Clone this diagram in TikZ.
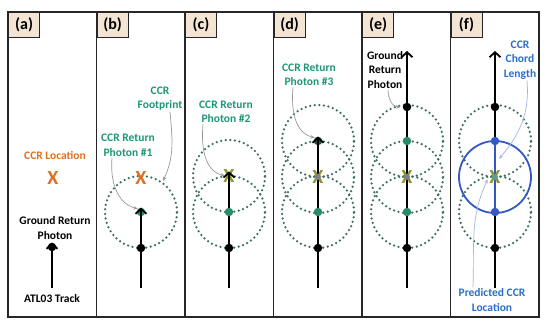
\documentclass[tikz,border=0pt]{standalone}
\usepackage{fontspec}
\setmainfont{Carlito}
\usetikzlibrary{positioning, arrows.meta}
\definecolor{ccrorange}{RGB}{222,112,32}
\definecolor{ccrteal}{RGB}{30,150,118}
\definecolor{ccrgreen}{RGB}{42,138,108}
\definecolor{ringgreen}{RGB}{58,112,94}
\definecolor{ccrblue}{RGB}{40,112,200}
\definecolor{chordblue}{RGB}{52,88,196}
\definecolor{ccrolive}{RGB}{140,150,40}
\definecolor{tagfill}{RGB}{243,228,212}
\pgfdeclarelayer{bg}
\pgfdeclarelayer{mid}
\pgfdeclarelayer{trk}
\pgfsetlayers{bg,mid,trk,main}
\tikzset{
	panel/.style={draw=black!85, line width=1.3pt},
	tag/.style={draw=black!85, line width=1.1pt, fill=tagfill, anchor=north west, minimum width=31pt, minimum height=25pt, font=\fontsize{16}{16}\selectfont\bfseries},
	lbl/.style={align=center, inner sep=1pt, font=\fontsize{11.5}{14.5}\selectfont\bfseries},
	track/.style={line width=1.8pt, -{Straight Barb[length=5pt,width=11pt,line width=1.8pt]}}
}

\begin{document}
\begin{tikzpicture}[
		x=1pt, y=1pt,
		photon/.style={circle, fill=black, minimum size=8.5pt, inner sep=0pt},
		xmark/.style={inner sep=0pt, font=\fontsize{20}{20}\selectfont\bfseries},
		footprint/.style={draw=ringgreen, line width=2.5pt, dash pattern=on 0pt off 4.6pt, line cap=round},
		pointer/.style={draw=black!40, line width=0.7pt, -{Stealth[length=4.5pt,width=3.5pt]}}
		]
		\useasboundingbox (0,0) rectangle (550,330);
		\begin{pgfonlayer}{bg}
			\fill[white] (0,0) rectangle (550,330);
		\end{pgfonlayer}
		
		% frame and panel tags
		\draw[panel] (8,13) rectangle (539,318);
		\foreach \x in {96.5,185,273.5,362,450.5}
			\draw[panel] (\x,13) -- (\x,318);
		\foreach \x/\t in {8/a,96.5/b,185/c,273.5/d,362/e,450.5/f}
			\node[tag] (tag\t) at (\x,318) {(\t)};
		
		% (a)
		\node[lbl, text=ccrorange] (locA) at (55,175) {CCR Location};
		\node[xmark, text=ccrorange] (xA) at (53,152) {X};
		\node[lbl] (grpA) at (55,102) {Ground Return\\Photon};
		\node[photon] (gA) at (52,83) {};
		\node[lbl] (trkA) at (52,31) {ATL03 Track};
		\coordinate (sA) at (52,42);
		\begin{pgfonlayer}{trk}
			\draw[track] (sA) -- (gA.north);
		\end{pgfonlayer}
		
		% (b)
		\node[photon] (gB) at (141,82) {};
		\begin{pgfonlayer}{mid}
			\node[photon, fill=ccrgreen] (p1B) at (141,118) {};
		\end{pgfonlayer}
		\node[xmark, text=ccrorange] (xB) at (141,152) {X};
		\coordinate (sB) at (141,42);
		\begin{pgfonlayer}{bg}
			\draw[footprint] (p1B) circle[radius=36pt];
		\end{pgfonlayer}
		\begin{pgfonlayer}{trk}
			\draw[track] (sB) -- (p1B.north);
		\end{pgfonlayer}
		\node[lbl, text=ccrteal] (fpB) at (160,231.5) {CCR\\Footprint};
		\node[lbl, text=ccrteal] (r1B) at (128,184.5) {CCR Return\\Photon \#1};
		\draw[pointer] ([xshift=10pt]fpB.south) to[out=-85, in=65] ([shift={(22pt,31pt)}]p1B.center);
		\draw[pointer] ([xshift=-16pt]r1B.south) to[out=-95, in=165] (p1B.north west);
		
		% (c)
		\node[photon] (gC) at (229,82) {};
		\node[photon, fill=ccrgreen] (p1C) at (229,118) {};
		\begin{pgfonlayer}{mid}
			\node[xmark, text=ccrolive] (xC) at (229,154) {X};
		\end{pgfonlayer}
		\coordinate (sC) at (229,42);
		\begin{pgfonlayer}{bg}
			\draw[footprint] (p1C) circle[radius=36pt];
			\draw[footprint] (xC) circle[radius=36pt];
		\end{pgfonlayer}
		\begin{pgfonlayer}{trk}
			\draw[track] (sC) -- ([yshift=-2pt]xC.north);
		\end{pgfonlayer}
		\node[lbl, text=ccrteal] (r2C) at (226,218) {CCR Return\\Photon \#2};
		\draw[pointer] ([xshift=-23pt]r2C.south) to[out=-95, in=165] ([xshift=-4pt]xC.center);
		
		% (d)
		\node[photon] (gD) at (318,82) {};
		\node[photon, fill=ccrgreen] (p1D) at (318,118) {};
		\node[xmark, text=ccrolive] (xD) at (318,153) {X};
		\node[photon, fill=black!50, minimum size=6pt] (p2D) at (318,153) {};
		\begin{pgfonlayer}{mid}
			\node[photon, fill=ccrgreen!60!black] (p3D) at (318,189) {};
		\end{pgfonlayer}
		\coordinate (sD) at (318,42);
		\begin{pgfonlayer}{bg}
			\foreach \c in {p1D,p2D,p3D}
				\draw[footprint] (\c) circle[radius=36pt];
		\end{pgfonlayer}
		\begin{pgfonlayer}{trk}
			\draw[track] (sD) -- (p3D.north);
		\end{pgfonlayer}
		\node[lbl, text=ccrteal] (r3D) at (309,255) {CCR Return\\Photon \#3};
		\draw[pointer] ([xshift=-16pt]r3D.south) to[out=-95, in=165] (p3D.north west);
		
		% (e)
		\node[photon] (gE) at (407,82) {};
		\node[photon, fill=ccrgreen] (p1E) at (407,118) {};
		\node[xmark, text=ccrolive] (xE) at (407,153) {X};
		\node[photon, fill=black!50, minimum size=6pt] (p2E) at (407,153) {};
		\node[photon, fill=ccrgreen] (p3E) at (407,189) {};
		\node[photon] (g2E) at (407,223) {};
		\coordinate (sE) at (407,42);
		\coordinate (tE) at (407,279);
		\begin{pgfonlayer}{bg}
			\foreach \c in {p1E,p2E,p3E}
				\draw[footprint] (\c) circle[radius=36pt];
		\end{pgfonlayer}
		\begin{pgfonlayer}{trk}
			\draw[track] (sE) -- (tE);
		\end{pgfonlayer}
		\node[lbl] (grpE) at (385,260) {Ground\\Return\\Photon};
		\draw[pointer] ([xshift=3pt]grpE.south) to[out=-90, in=180] ([xshift=-2pt]g2E.west);
		
		% (f)
		\node[photon] (gF) at (495,82) {};
		\node[photon, fill=chordblue] (p1F) at (495,118) {};
		\node[xmark, text=ccrolive] (xF) at (495,153) {X};
		\node[photon, fill=ccrgreen!80!black!70, minimum size=6pt] (p2F) at (495,153) {};
		\node[photon, fill=chordblue] (p3F) at (495,189) {};
		\node[photon] (g2F) at (495,223) {};
		\coordinate (sF) at (495,42);
		\coordinate (tF) at (495,279);
		\begin{pgfonlayer}{bg}
			\foreach \c in {p1F,p3F}
				\draw[footprint] (\c) circle[radius=36pt];
		\end{pgfonlayer}
		\begin{pgfonlayer}{trk}
			\draw[track] (sF) -- (tF);
			\draw[chordblue, line width=1.8pt] (p1F) -- (p3F);
			\draw[chordblue, line width=1.8pt] (p2F) circle[radius=36pt];
		\end{pgfonlayer}
		\node[lbl, text=ccrblue] (chF) at (520,270) {CCR\\Chord\\Length};
		\node[lbl, text=ccrblue] (prF) at (492,30) {Predicted CCR\\Location};
		\draw[pointer, draw=chordblue!45] ([xshift=7pt]chF.south) to[out=-85, in=50] ([shift={(4pt,18pt)}]p2F.center);
		\draw[pointer, draw=chordblue!45] ([xshift=-19pt]prF.north) to[out=88, in=-115] ([xshift=-5pt]p2F.south west);
	\end{tikzpicture}
\end{document}
